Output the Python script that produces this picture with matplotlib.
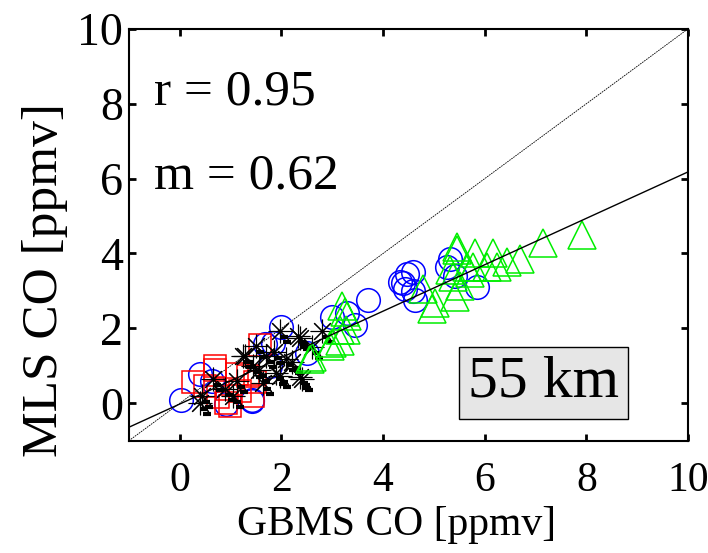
import matplotlib
matplotlib.use('Agg')
import matplotlib.pyplot as plt
import matplotlib.transforms as mtransforms
import numpy as np

plt.rcParams['font.family'] = ['Liberation Serif', 'DejaVu Serif']

# blue circles
circ_x = [0.03, 0.4, 0.63, 0.92, 1.42, 1.42, 1.83, 2.0, 1.77, 1.67, 2.5, 3.0, 3.3, 3.45, 3.7,
          4.33, 4.47, 4.43, 4.63, 4.59, 4.59, 4.39, 5.31, 5.26, 5.41, 5.85]
circ_y = [0.1, 0.77, 0.59, -0.02, 0.1, 0.05, 1.6, 2.05, 1.0, 1.57, 1.35, 2.3, 2.4, 2.1, 2.75,
          3.25, 3.44, 3.04, 2.77, 3.5, 3.0, 3.2, 3.84, 3.63, 3.4, 3.1]

# red squares
sq_x = [0.26, 0.69, 0.49, 0.75, 0.94, 0.98, 1.34, 1.18, 1.57, 1.48, 1.12, 0.69, 0.92, 1.44]
sq_y = [0.56, 0.9, 0.46, 0.16, 0.37, -0.08, 0.72, 0.32, 1.55, 0.56, 0.77, 0.99, 0.0, 0.19]

# black asterisks
ast_x = [0.39, 0.65, 1.12, 1.24, 1.51, 1.97, 2.32, 2.8, 2.4, 1.7, 1.9, 1.44, 0.89, 0.43, 1.63,
         2.1, 2.36, 1.97, 2.36, 1.28, 1.85, 2.2, 1.55, 1.05, 2.6]
ast_y = [0.02, 0.64, 0.59, 1.26, 1.53, 1.93, 1.8, 1.93, 0.64, 1.26, 0.82, 1.0, 0.37, 0.19, 0.55,
         1.17, 1.75, 0.72, 0.69, 1.26, 1.36, 1.1, 0.9, 0.2, 1.5]

# green triangles
tri_x = [2.56, 2.6, 2.95, 3.0, 3.15, 3.15, 3.19, 3.25, 3.28, 3.3, 4.78, 4.96, 5.02, 5.41, 5.45,
         5.31, 5.37, 5.51, 5.45, 5.65, 5.71, 5.77, 5.8, 6.04, 6.17, 6.24, 6.43, 6.7, 7.15, 7.92]
tri_y = [1.17, 1.23, 1.52, 1.62, 1.65, 1.97, 2.59, 2.43, 1.97, 2.32, 3.04, 2.51, 2.69, 2.83, 4.16,
         3.57, 3.36, 3.12, 4.1, 3.65, 3.49, 3.65, 4.02, 3.65, 4.02, 3.65, 3.76, 3.84, 4.29, 4.5]

fit_slope = 0.62
fit_icpt = -0.02
r_text = 'r = 0.95'
m_text = 'm = 0.62'
alt_text = '55 km'

fig = plt.figure(figsize=(7.08, 5.53), dpi=100)
ax = fig.add_axes([0.182, 0.203, 0.790, 0.745])

lx = np.array([-1, 10])
ax.plot(lx, lx, color='black', lw=0.6, ls=(0, (2, 1)), zorder=1)
ax.plot(lx, fit_slope * lx + fit_icpt, color='black', lw=1.0, zorder=5)

ax.plot(circ_x, circ_y, 'o', ms=17, mfc='none', mec='#0000ff', mew=1.1, zorder=2)
ax.plot(sq_x, sq_y, 's', ms=16, mfc='none', mec='#ff0000', mew=1.1, zorder=2)
off1 = mtransforms.offset_copy(ax.transData, fig=fig, x=4, y=-6, units='dots')
off2 = mtransforms.offset_copy(ax.transData, fig=fig, x=7, y=-11, units='dots')
ax.plot(ast_x, ast_y, '_', ms=6, mew=3, color='black', transform=off1, zorder=3)
ax.plot(ast_x, ast_y, '_', ms=6, mew=3, color='black', transform=off2, zorder=3)
ax.plot(ast_x, ast_y, ls='none', marker=(8, 2, 0), ms=17, mfc='none', mec='black', mew=0.8, zorder=3)
ax.plot(tri_x, tri_y, '^', ms=20, mfc='none', mec='#00ee00', mew=1.1, zorder=4)

ax.set_xlim(-1, 10)
ax.set_ylim(-1, 10)
ax.set_xticks([0, 2, 4, 6, 8, 10])
ax.set_yticks([0, 2, 4, 6, 8, 10])
ax.tick_params(direction='in', length=5, width=2, labelsize=33, top=True, right=True)
ax.tick_params(axis='x', pad=15, labelsize=30)
ax.tick_params(axis='y', pad=4)
for s in ax.spines.values():
    s.set_linewidth(1.5)

ax.set_xlabel('GBMS CO [ppmv]', fontsize=30)
ax.set_ylabel('MLS CO [ppmv]', fontsize=37)
ax.xaxis.set_label_coords(0.479, -0.204, transform=ax.transAxes)
ax.yaxis.set_label_coords(-0.15, 0.39, transform=ax.transAxes)
ax.xaxis.label.set_va('center')
ax.yaxis.label.set_va('center')

ax.text(-0.5, 8.3, r_text, fontsize=37, va='center', ha='left')
ax.text(-0.5, 6.05, m_text, fontsize=37, va='center', ha='left')
ax.text(7.15, 0.55, alt_text, fontsize=43, va='center', ha='center',
        bbox=dict(boxstyle='square,pad=0.15', fc='#e6e6e6', ec='black', lw=1))

fig.savefig('out.png', dpi=100)
